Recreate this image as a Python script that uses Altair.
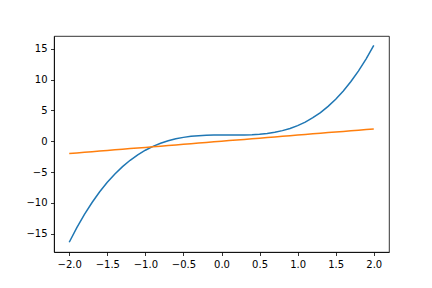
import altair as alt
import pandas as pd

x_vals = [-2.0, -1.9, -1.8, -1.7, -1.6, -1.5, -1.4, -1.3, -1.2, -1.1, -1.0,
          -0.9, -0.8, -0.7, -0.6, -0.5, -0.4, -0.3, -0.2, -0.1, 0.0,
          0.1, 0.2, 0.3, 0.4, 0.5, 0.6, 0.7, 0.8, 0.9, 1.0,
          1.1, 1.2, 1.3, 1.4, 1.5, 1.6, 1.7, 1.8, 1.9, 2.0]
blue_vals = [-16.416, -14.041, -11.891, -9.955, -8.221, -6.679, -5.318, -4.127, -3.094, -2.208, -1.460,
             -0.836, -0.327, 0.079, 0.393, 0.628, 0.793, 0.901, 0.964, 0.993, 1.000,
             0.997, 0.996, 1.009, 1.049, 1.128, 1.257, 1.451, 1.721, 2.080, 2.540,
             3.116, 3.818, 4.662, 5.658, 6.821, 8.163, 9.697, 11.437, 13.395, 15.584]
orange_vals = [-2.0, -1.9, -1.8, -1.7, -1.6, -1.5, -1.4, -1.3, -1.2, -1.1, -1.0,
               -0.9, -0.8, -0.7, -0.6, -0.5, -0.4, -0.3, -0.2, -0.1, 0.0,
               0.1, 0.2, 0.3, 0.4, 0.5, 0.6, 0.7, 0.8, 0.9, 1.0,
               1.1, 1.2, 1.3, 1.4, 1.5, 1.6, 1.7, 1.8, 1.9, 2.0]
x_ticks = [-2.0, -1.5, -1.0, -0.5, 0.0, 0.5, 1.0, 1.5, 2.0]
y_ticks = [-15, -10, -5, 0, 5, 10, 15]

df = pd.DataFrame({"x": x_vals, "blue": blue_vals, "orange": orange_vals})

xenc = alt.X("x:Q", scale=alt.Scale(domain=[-2.2, 2.2], nice=False, zero=False),
             axis=alt.Axis(values=x_ticks, format=".1f", title=None))
yscale = alt.Scale(domain=[-18.0, 17.1], nice=False, zero=False)
yaxis = alt.Axis(values=y_ticks, format="d", title=None)

blue = alt.Chart(df).mark_line(color="#1f77b4", strokeWidth=1.5).encode(
    x=xenc, y=alt.Y("blue:Q", scale=yscale, axis=yaxis))
orange = alt.Chart(df).mark_line(color="#ff7f0e", strokeWidth=1.5).encode(
    x=xenc, y=alt.Y("orange:Q", scale=yscale, axis=yaxis))

chart = alt.layer(blue, orange).properties(
    width=335, height=216,
    autosize=alt.AutoSizeParams(type="none"),
    padding={"left": 54, "top": 36, "right": 43, "bottom": 36},
    background="white",
).configure_view(stroke="black", strokeWidth=0.8).configure_axis(
    grid=False, domainColor="black", domainWidth=0.8, tickColor="black",
    tickWidth=0.8, tickSize=3.5, labelColor="black", labelFont="DejaVu Sans",
    labelFontSize=10, labelPadding=3.5,
)

chart.save("out.html", embed_options={"renderer": "svg", "actions": False})
